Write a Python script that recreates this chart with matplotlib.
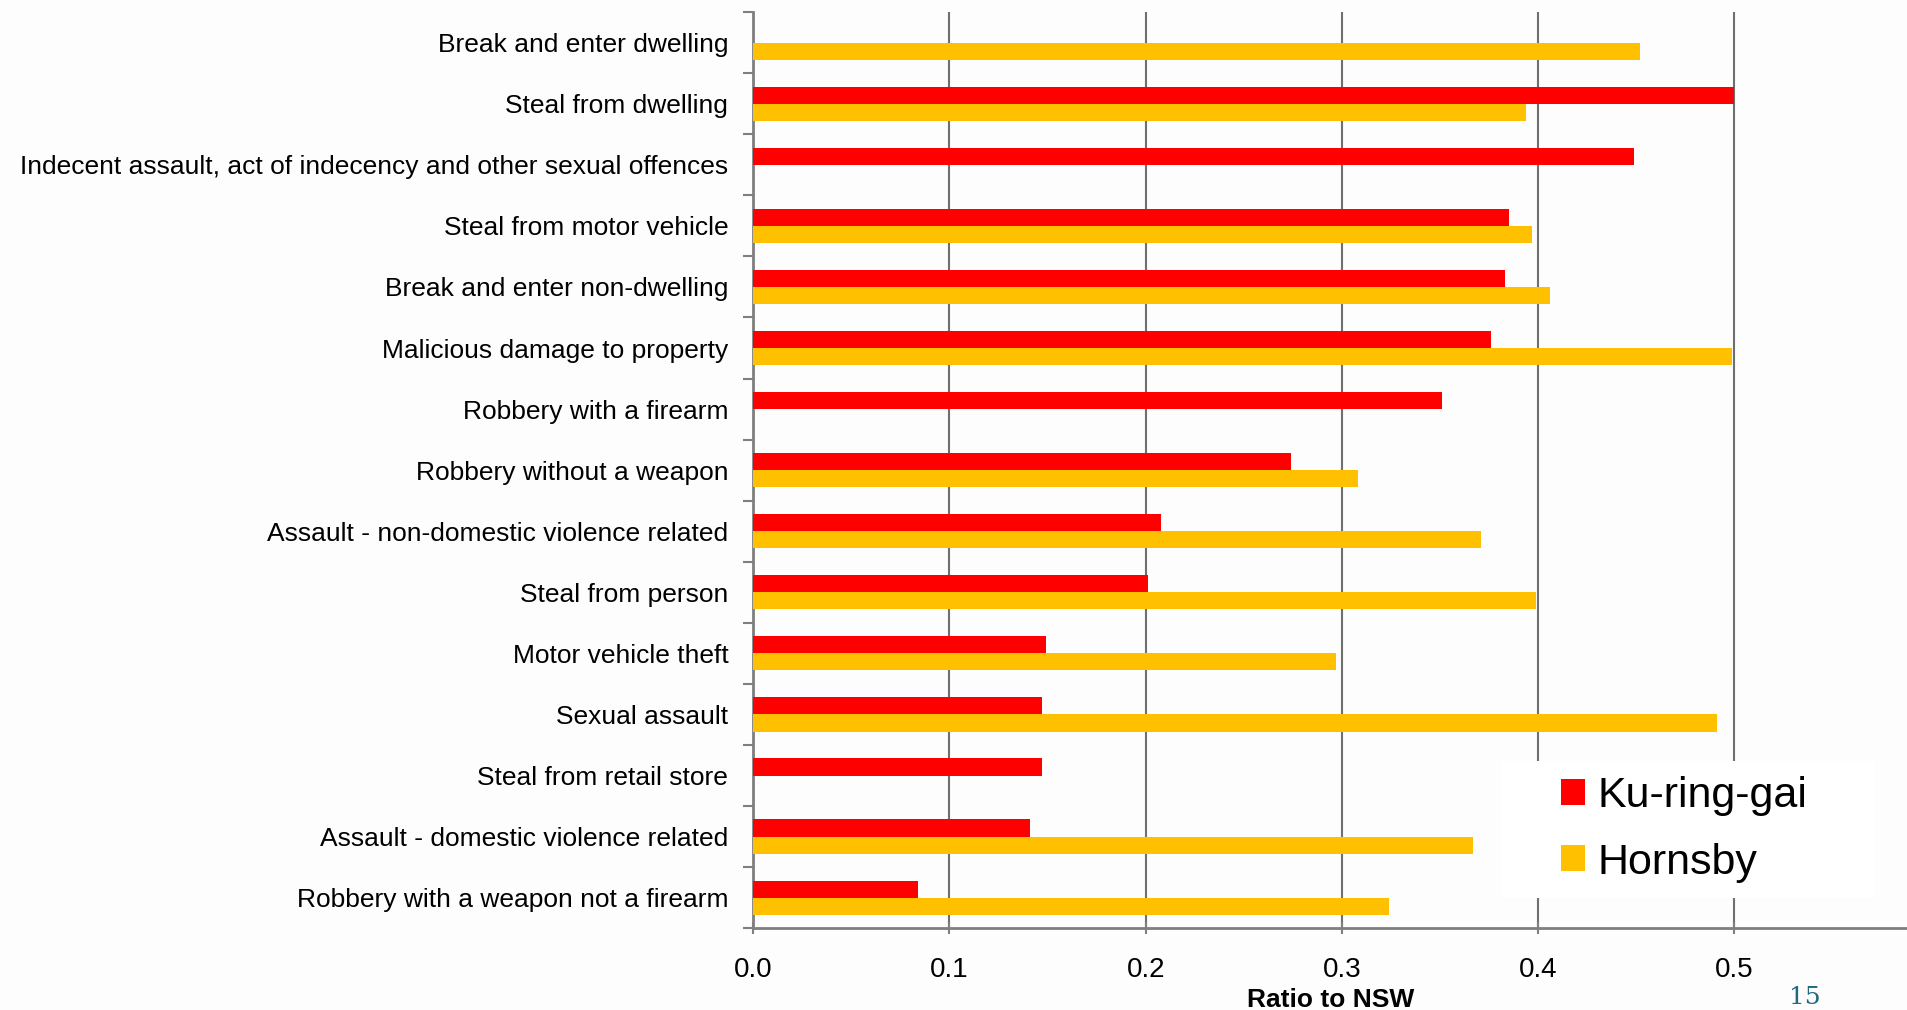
import matplotlib.pyplot as plt
import numpy as np
from matplotlib.patches import Rectangle

plt.rcParams['font.family'] = ['Liberation Sans', 'DejaVu Sans']

# Data (top to bottom as in the chart)
categories = [
    'Break and enter dwelling',
    'Steal from dwelling',
    'Indecent assault, act of indecency and other sexual offences',
    'Steal from motor vehicle',
    'Break and enter non-dwelling',
    'Malicious damage to property',
    'Robbery with a firearm',
    'Robbery without a weapon',
    'Assault - non-domestic violence related',
    'Steal from person',
    'Motor vehicle theft',
    'Sexual assault',
    'Steal from retail store',
    'Assault - domestic violence related',
    'Robbery with a weapon not a firearm',
]
kuringgai = [0, 0.500, 0.449, 0.385, 0.383, 0.376, 0.351, 0.274, 0.208, 0.201,
             0.149, 0.147, 0.147, 0.141, 0.084]
hornsby = [0.452, 0.394, 0, 0.397, 0.406, 0.499, 0, 0.308, 0.371, 0.399,
           0.297, 0.491, 0, 0.367, 0.324]
xticks = [0.0, 0.1, 0.2, 0.3, 0.4, 0.5]

red = '#ff0000'
gold = '#ffc000'
axis_col = '#7f7f7f'

fig = plt.figure(figsize=(19.07, 10.10), dpi=100)
fig.patch.set_facecolor('#fdfdfd')
ax = fig.add_axes([0.395, 0.081, 0.605, 0.907])
ax.set_facecolor('none')

n = len(categories)
y = np.arange(n)
h = 0.28
ax.barh(y - h / 2, kuringgai, height=h, color=red, label='Ku-ring-gai', zorder=3)
ax.barh(y + h / 2, hornsby, height=h, color=gold, label='Hornsby', zorder=3)

ax.set_ylim(n - 0.5, -0.5)
ax.set_xlim(0, 0.588)

# category labels centred, ticks on the category boundaries
ax.set_yticks(y)
ax.set_yticklabels(categories, fontsize=19)
ax.tick_params(axis='y', which='major', length=0, pad=18)
ax.set_yticks(np.arange(n + 1) - 0.5, minor=True)
ax.tick_params(axis='y', which='minor', length=7, width=1.5, color=axis_col, direction='out')

ax.set_xticks(xticks)
ax.set_xticklabels([f'{v:.1f}' for v in xticks], fontsize=20)
ax.tick_params(axis='x', length=8, width=1.5, color=axis_col, pad=17, direction='inout')
ax.xaxis.grid(True, color='#6f6f6f', linewidth=1.5, zorder=1)
ax.set_axisbelow(True)

for s in ['top', 'right']:
    ax.spines[s].set_visible(False)
for s in ['left', 'bottom']:
    ax.spines[s].set_color(axis_col)
    ax.spines[s].set_linewidth(2)

ax.set_xlabel('Ratio to NSW', fontsize=19, fontweight='bold', labelpad=3)

# white legend panel
ax.add_patch(Rectangle((0.648, 0.033), 0.324, 0.150, transform=ax.transAxes,
                       facecolor='white', edgecolor='none', zorder=4))
leg = ax.legend(loc='center left', bbox_to_anchor=(0.7, 0.108), fontsize=31,
                frameon=False, handlelength=0.55, handleheight=0.55,
                handletextpad=0.3, labelspacing=0.62, borderpad=0, borderaxespad=0)
leg.set_zorder(5)

fig.text(0.938, 0.001, '15', fontsize=18, color='#1f6a80', family='DejaVu Serif',
         va='bottom')

fig.savefig('out.png', dpi=100, facecolor=fig.get_facecolor())
